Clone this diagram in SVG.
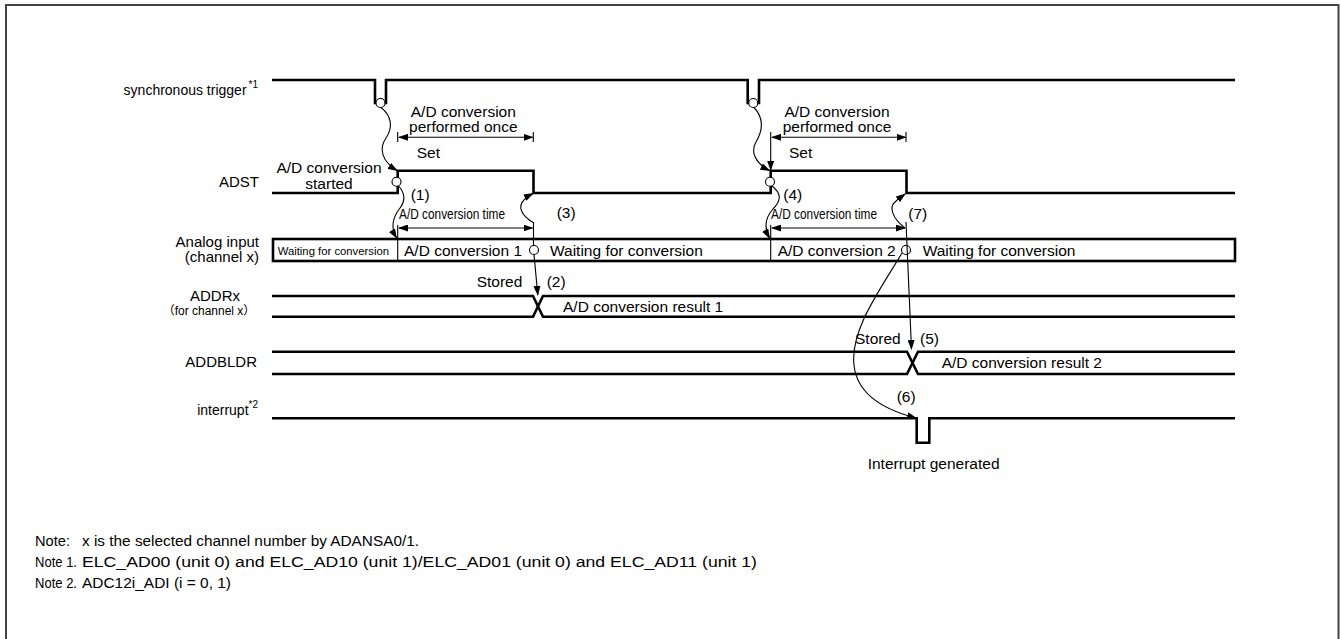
<svg xmlns="http://www.w3.org/2000/svg" width="1341" height="639" viewBox="0 0 1341 639">
<style>
text{font-family:"Liberation Sans",Arial,"Noto Sans CJK JP",sans-serif;fill:#000;font-size:15.5px}
.sig{fill:none;stroke:#000;stroke-width:2.6;stroke-linejoin:miter}
.thin{fill:none;stroke:#000;stroke-width:1.1}
.arr{fill:none;stroke:#000;stroke-width:1.1;marker-end:url(#ah)}
.dim{fill:none;stroke:#000;stroke-width:1.1;marker-end:url(#ah);marker-start:url(#ah)}
.circ{fill:#fff;stroke:#000;stroke-width:1.1}
text.lbl{font-size:15px}
text.s14{font-size:14px}
text.s12{font-size:12px}
text.s11{font-size:11.3px}
text.note{font-size:15.3px}
tspan.sup{font-size:10px}
</style>
<defs>
<marker id="ah" markerUnits="userSpaceOnUse" markerWidth="10" markerHeight="7" refX="9" refY="3.5" orient="auto-start-reverse">
<path d="M0,0 L10,3.5 L0,7 z" fill="#000"/>
</marker>
</defs>
<rect x="6" y="5" width="1332.5" height="645" fill="#fff" stroke="#444" stroke-width="2"/>

<g id="trigger">
<path class="sig" d="M272,80 H375 V103 H386 V80 H747.7 V103 H759 V80 H1235"/>
<text class="s14" x="258" y="95" text-anchor="end">synchronous trigger<tspan class="sup" dx="2" dy="-7">*1</tspan></text>
<circle class="circ" cx="380.5" cy="103" r="4.5"/>
<circle class="circ" cx="753.3" cy="103" r="4.5"/>
</g>

<g id="adst">
<path class="sig" d="M272,193 H397.7 V170.7 H533.5 V193 H770.7 V170.7 H906.5 V193 H1235"/>
<text class="lbl" x="259" y="187" text-anchor="end">ADST</text>
<text x="329" y="173" text-anchor="middle">A/D conversion</text>
<text x="329" y="189" text-anchor="middle">started</text>
<circle class="circ" cx="396.5" cy="181.7" r="4.5"/>
<circle class="circ" cx="770" cy="181.7" r="4.5"/>
</g>

<g id="analog">
<rect class="sig" x="273" y="239" width="962" height="22"/>
<path class="thin" d="M397.7,225 V261 M770.7,225 V261"/>
<text class="lbl" x="259" y="247" text-anchor="end">Analog input</text>
<text class="lbl" x="259" y="262" text-anchor="end">(channel x)</text>
<text class="s11" x="277.7" y="254.5">Waiting for conversion</text>
<text x="404" y="255.5">A/D conversion 1</text>
<text x="550" y="255.5">Waiting for conversion</text>
<text x="777.7" y="255.5">A/D conversion 2</text>
<text x="922.7" y="255.5">Waiting for conversion</text>
<circle class="circ" cx="534" cy="250" r="4.5"/>
<circle class="circ" cx="906" cy="250" r="4.5"/>
</g>

<g id="addrx">
<path class="sig" d="M272,296 H533 L543,316.7 H1235"/>
<path class="sig" d="M272,316.7 H533 L543,296 H1235"/>
<text class="lbl" x="215" y="301" text-anchor="middle">ADDRx</text>
<text class="s12" x="209" y="315" text-anchor="middle">（for channel x）</text>
<text x="563" y="311.5">A/D conversion result 1</text>
</g>

<g id="addbldr">
<path class="sig" d="M272,351.7 H907 L918,374 H1235"/>
<path class="sig" d="M272,374 H907 L918,351.7 H1235"/>
<text class="lbl" x="257" y="367" text-anchor="end">ADDBLDR</text>
<text x="941.7" y="368">A/D conversion result 2</text>
</g>

<g id="interrupt">
<path class="sig" d="M272,418.3 H916.7 V442.7 H929.3 V418.3 H1235"/>
<text class="s14" x="258" y="415" text-anchor="end">interrupt<tspan class="sup" dy="-7">*2</tspan></text>
<text x="867.7" y="469">Interrupt generated</text>
</g>

<g id="connectors">
<path class="arr" d="M381,107.5 C392,116 393,128 386,138 C379,148 381,161 397,170.5"/>
<path class="arr" d="M398.5,186 C405,193 406,200 400,208 C393,217 390,227 396.5,238"/>
<path class="dim" d="M399,137.3 H532.5"/>
<path class="thin" d="M397.7,132 V142 M533.3,132 V142"/>
<path class="dim" d="M399,228 H532.5"/>
<path class="thin" d="M533.5,222 V245.5"/>
<path class="arr" d="M534,223 C520,215 518,206 524,200 C527,197 530,195 533,193.5"/>
<path class="arr" d="M534,254.5 L537.8,295"/>

<path class="arr" d="M754,107.5 C764,118 763,130 756,142 C750,152 756,164 769.5,170.5"/>
<path class="arr" d="M770.7,132 V170"/>
<path class="dim" d="M772,137.3 H905.5"/>
<path class="thin" d="M906,132 V142"/>
<path class="arr" d="M772,186 C781,193 782,200 773,209 C765,218 764,228 769.5,238"/>
<path class="dim" d="M772,228 H905"/>
<path class="arr" d="M906,222 L911.5,349"/>
<path class="arr" d="M905,228 C892,218 889,207 895,202 C898,199 901,197 905,194"/>
<path class="arr" d="M902,253 C880,290 850,330 854,365 C857,395 885,410 916,418"/>

<text x="463.3" y="116.5" text-anchor="middle">A/D conversion</text>
<text x="463.3" y="132" text-anchor="middle">performed once</text>
<text x="416.7" y="158">Set</text>
<text x="410.7" y="200">(1)</text>
<text class="s14" x="399" y="219" textLength="106" lengthAdjust="spacingAndGlyphs">A/D conversion time</text>
<text x="556.7" y="218">(3)</text>
<text x="476.7" y="287">Stored</text>
<text x="546.7" y="287">(2)</text>

<text x="837" y="116.5" text-anchor="middle">A/D conversion</text>
<text x="837" y="132" text-anchor="middle">performed once</text>
<text x="789" y="158">Set</text>
<text x="783.3" y="200">(4)</text>
<text class="s14" x="771" y="219" textLength="106" lengthAdjust="spacingAndGlyphs">A/D conversion time</text>
<text x="908.3" y="219">(7)</text>
<text x="855" y="344">Stored</text>
<text x="920" y="344">(5)</text>
<text x="896.7" y="402">(6)</text>
</g>

<g id="notes">
<text class="note" x="35" y="546" textLength="35" lengthAdjust="spacingAndGlyphs">Note:</text>
<text class="note" x="82" y="546" textLength="337" lengthAdjust="spacingAndGlyphs">x is the selected channel number by ADANSA0/1.</text>
<text class="note" x="35" y="567" textLength="42" lengthAdjust="spacingAndGlyphs">Note 1.</text>
<text class="note" x="82" y="567" textLength="675" lengthAdjust="spacingAndGlyphs">ELC_AD00 (unit 0) and ELC_AD10 (unit 1)/ELC_AD01 (unit 0) and ELC_AD11 (unit 1)</text>
<text class="note" x="35" y="588" textLength="42" lengthAdjust="spacingAndGlyphs">Note 2.</text>
<text class="note" x="82" y="588" textLength="149" lengthAdjust="spacingAndGlyphs">ADC12i_ADI (i = 0, 1)</text>
</g>
</svg>
